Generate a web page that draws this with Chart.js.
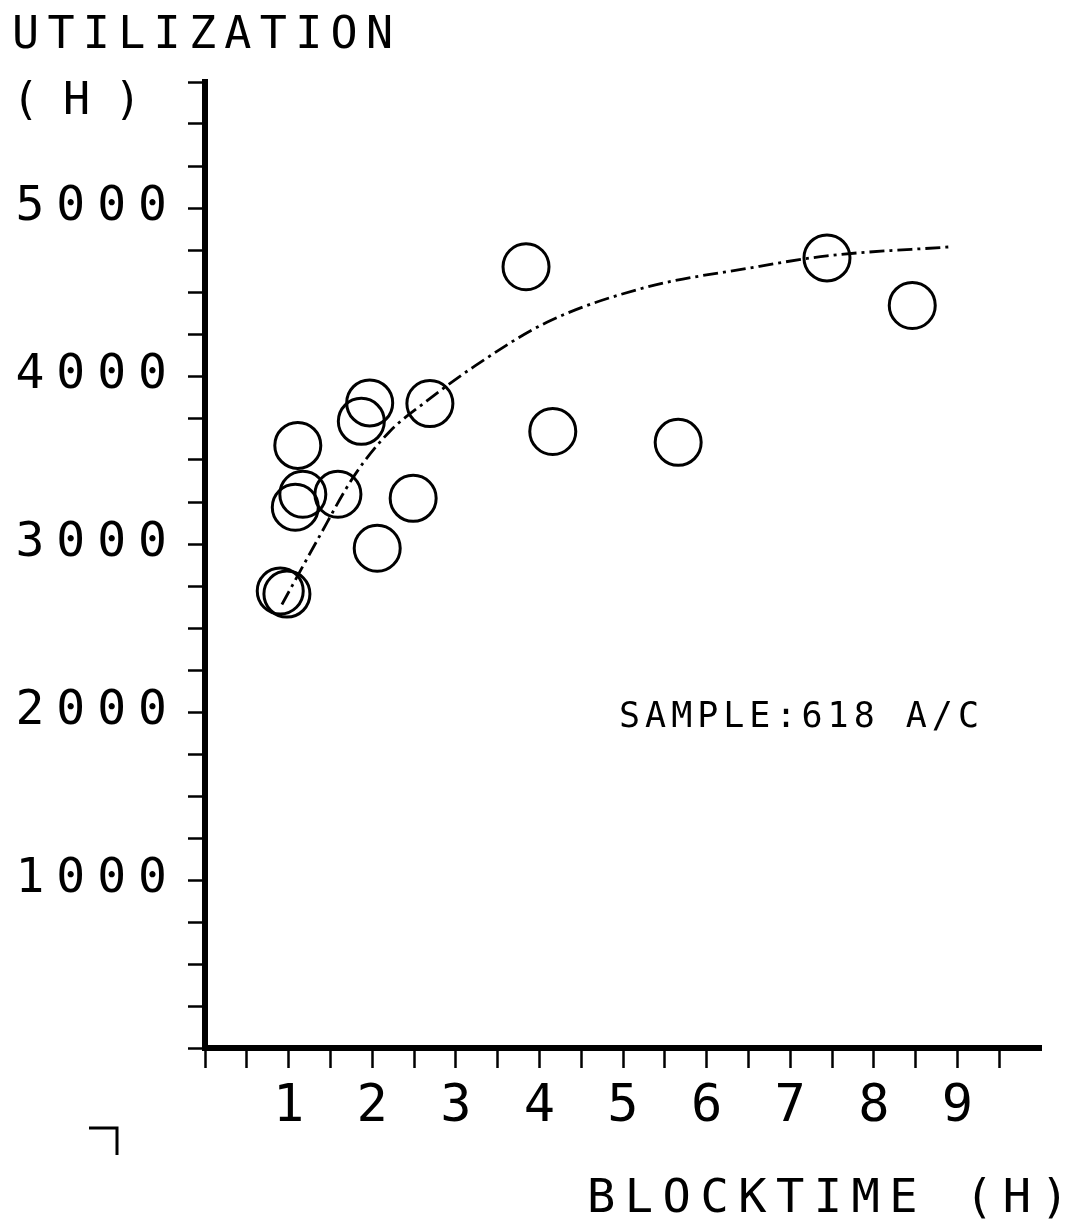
<!DOCTYPE html>
<html>
<head>
<meta charset="utf-8">
<script src="https://cdn.jsdelivr.net/npm/chart.js@4.4.0/dist/chart.umd.min.js"></script>
<style>
  html, body { margin: 0; padding: 0; background: #fff; }
  #wrap { width: 1083px; height: 1219px; }
</style>
</head>
<body>
<div id="wrap"><canvas id="myChart" width="1083" height="1219"></canvas></div>
<script>
// aircraft samples: blocktime (h) vs utilization (h)
const blockTime = [3.84, 7.44, 8.46, 1.97, 1.87, 2.69, 1.11, 1.17, 1.08, 1.59, 2.49, 2.06, 0.90, 0.98, 4.16, 5.66];
const utilization = [4650, 4703, 4420, 3840, 3730, 3836, 3587, 3296, 3219, 3296, 3272, 2975, 2720, 2702, 3670, 3605];

// fitted curve
const fitX = [0.92, 1.34, 1.79, 2.21, 2.65, 3.2, 4.09, 5.29, 6.48, 7.44, 8.95];
const fitY = [2640, 3020, 3410, 3670, 3850, 4050, 4320, 4530, 4640, 4715, 4770];

const xTickLabels = ['1', '2', '3', '4', '5', '6', '7', '8', '9'];
const yTickLabels = ['1000', '2000', '3000', '4000', '5000'];

const FONT = '"DejaVu Sans Mono", monospace';

const points = blockTime.map((x, i) => ({ x: x, y: utilization[i] }));
const curve = fitX.map((x, i) => ({ x: x, y: fitY[i] }));

const textPlugin = {
    id: 'plotterText',
    beforeDraw(chart) {
        chart.ctx.letterSpacing = '12px';
    },
    afterDraw(chart) {
        const ctx = chart.ctx;
        ctx.save();
        ctx.fillStyle = '#000';
        ctx.textBaseline = 'alphabetic';
        ctx.textAlign = 'left';
        ctx.font = '45px ' + FONT;
        ctx.letterSpacing = '8.3px';
        ctx.fillText('UTILIZATION', 12, 48);
        ctx.letterSpacing = '24px';
        ctx.fillText('(H)', 12, 114);
        ctx.font = '47px ' + FONT;
        ctx.letterSpacing = '9.5px';
        ctx.fillText('BLOCKTIME (H)', 587, 1212);
        ctx.font = '35px ' + FONT;
        ctx.letterSpacing = '5px';
        ctx.fillText('SAMPLE:618 A/C', 619, 727);
        // corner crop mark
        ctx.strokeStyle = '#000';
        ctx.lineWidth = 3;
        ctx.beginPath();
        ctx.moveTo(89, 1128);
        ctx.lineTo(117, 1128);
        ctx.lineTo(117, 1155);
        ctx.stroke();
        ctx.restore();
    }
};

new Chart(document.getElementById('myChart'), {
    type: 'scatter',
    data: {
        datasets: [
            {
                label: 'aircraft',
                data: points,
                pointStyle: 'circle',
                pointRadius: 23,
                pointHoverRadius: 23,
                borderColor: '#000',
                backgroundColor: 'rgba(0,0,0,0)',
                borderWidth: 3,
                showLine: false,
            },
            {
                label: 'fit',
                data: curve,
                showLine: true,
                pointRadius: 0,
                borderColor: '#000',
                borderWidth: 2.8,
                borderDash: [15, 5, 3, 5],
                cubicInterpolationMode: 'monotone',
                fill: false,
            },
        ],
    },
    options: {
        responsive: false,
        animation: false,
        events: [],
        layout: { padding: { top: 82, right: 42, left: 0, bottom: 0 } },
        plugins: {
            legend: { display: false },
            title: { display: false },
            tooltip: { enabled: false },
        },
        scales: {
            x: {
                type: 'linear',
                min: 0,
                max: 10,
                afterFit(scale) { scale.height = 171; },
                border: { display: true, color: '#000', width: 6 },
                grid: {
                    drawOnChartArea: false,
                    drawTicks: true,
                    tickLength: 20,
                    tickWidth: 2.5,
                    tickColor: (c) => (c.tick && c.tick.value === 10 ? 'rgba(0,0,0,0)' : '#000'),
                },
                ticks: {
                    stepSize: 0.5,
                    autoSkip: false,
                    maxRotation: 0,
                    color: '#000',
                    padding: 8,
                    labelOffset: 6,
                    font: { family: FONT, size: 52 },
                    callback: (v) => (xTickLabels.includes(String(v)) ? String(v) : ''),
                },
            },
            y: {
                type: 'linear',
                min: 0,
                max: 5750,
                afterFit(scale) { scale.width = 205; },
                border: { display: true, color: '#000', width: 6 },
                grid: {
                    drawOnChartArea: false,
                    drawTicks: true,
                    tickLength: 17,
                    tickWidth: 2.5,
                    tickColor: '#000',
                },
                ticks: {
                    stepSize: 250,
                    autoSkip: false,
                    color: '#000',
                    padding: 9,
                    font: { family: FONT, size: 48 },
                    callback: (v) => (yTickLabels.includes(String(v)) ? String(v) : ''),
                },
            },
        },
    },
    plugins: [textPlugin],
});
</script>
</body>
</html>
